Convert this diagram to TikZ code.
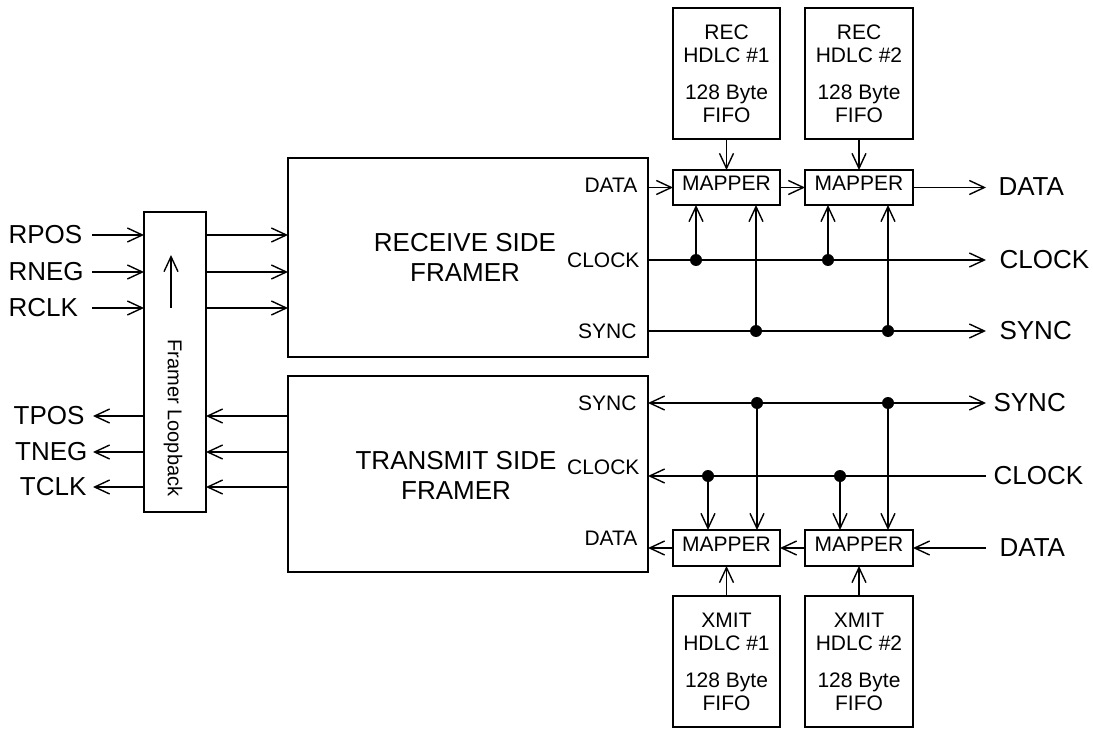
\documentclass[tikz,border=0pt]{standalone}
\usepackage{fontspec}
\setmainfont{Liberation Sans}
\usetikzlibrary{arrows.meta}
\begin{document}
\begin{tikzpicture}[x=1pt,y=-1pt,line width=1.1pt,
  >={Straight Barb[length=15pt,width=14pt,line width=1.4pt]},
  box/.style={draw,line width=1.1pt,anchor=north west,inner sep=0pt,outer sep=0pt},
  dot/.style={circle,fill,draw=none,inner sep=0pt,minimum size=12pt},
  big/.style={font=\fontsize{26}{30}\selectfont,inner sep=0pt},
  mid/.style={font=\fontsize{21}{23}\selectfont,inner sep=0pt},
  mapbox/.style={box,minimum width=107pt,minimum height=35pt,font=\fontsize{21}{23}\selectfont,text depth=8pt},
  fifo/.style={box,minimum width=107pt,minimum height=131pt,align=center,font=\fontsize{21}{23}\selectfont}
]
\useasboundingbox (0,0) rectangle (1093,730);

% main boxes
\node[box,minimum width=62pt,minimum height=300pt] (lb) at (144,212) {};
\node[box,minimum width=360pt,minimum height=199pt] (rf) at (288,158) {};
\node[box,minimum width=360pt,minimum height=196pt] (tf) at (288,376) {};
\node[big,align=center] (rft) at (465,257) {RECEIVE SIDE\\FRAMER};
\node[big,align=center] (tft) at (456,475) {TRANSMIT SIDE\\FRAMER};
\node[rotate=-90,inner sep=0pt,font=\fontsize{20}{24}\selectfont] (lbt) at (173,418) {Framer Loopback};

% mappers and FIFOs
\node[mapbox] (rm1) at (673,170) {MAPPER};
\node[mapbox,minimum width=108pt] (rm2) at (805,170) {MAPPER};
\node[mapbox,minimum height=36pt] (tm1) at (673,530) {MAPPER};
\node[mapbox,minimum width=108pt,minimum height=36pt] (tm2) at (805,530) {MAPPER};
\node[fifo] (rh1) at (673,8) {REC\\HDLC \#1\\[14pt]128 Byte\\FIFO};
\node[fifo,minimum width=108pt] (rh2) at (805,8) {REC\\HDLC \#2\\[14pt]128 Byte\\FIFO};
\node[fifo] (th1) at (673,596) {XMIT\\HDLC \#1\\[14pt]128 Byte\\FIFO};
\node[fifo,minimum width=108pt] (th2) at (805,596) {XMIT\\HDLC \#2\\[14pt]128 Byte\\FIFO};

% inner labels
\node[mid,anchor=east] (rdl) at (638,185) {DATA};
\node[mid,anchor=east] (rcl) at (640,260) {CLOCK};
\node[mid,anchor=east] (rsl) at (637,331) {SYNC};
\node[mid,anchor=east] (tsl) at (637,403) {SYNC};
\node[mid,anchor=east] (tcl) at (640,467) {CLOCK};
\node[mid,anchor=east] (tdl) at (638,538) {DATA};

% outer labels
\node[big,anchor=west] (rpos) at (8,235) {RPOS};
\node[big,anchor=west] (rneg) at (8,272) {RNEG};
\node[big,anchor=west] (rclk) at (8,308) {RCLK};
\node[big,anchor=east] (tpos) at (85,416) {TPOS};
\node[big,anchor=east] (tneg) at (88,452) {TNEG};
\node[big,anchor=east] (tclk) at (87,487) {TCLK};
\node[big,anchor=west] (odata) at (998,187) {DATA};
\node[big,anchor=west] (oclk) at (999,260) {CLOCK};
\node[big,anchor=west] (osync) at (999,331) {SYNC};
\node[big,anchor=west] (isync) at (993,403) {SYNC};
\node[big,anchor=west] (iclk) at (993,476) {CLOCK};
\node[big,anchor=west] (idata) at (999,548) {DATA};

% helper coordinates
\coordinate (inx) at (92,0);
\coordinate (outx) at (93,0);
\coordinate (rend) at (986,0);
\coordinate (tclky) at (0,476);
\coordinate (la1) at (171,308);
\coordinate (la2) at (171,255);

% left side
\foreach \s in {rpos,rneg,rclk}{
  \draw[->] (inx |- \s) -- (lb.west |- \s);
  \draw[->] (lb.east |- \s) -- (rf.west |- \s);
}
\foreach \s in {tpos,tneg,tclk}{
  \draw[->] (tf.west |- \s) -- (lb.east |- \s);
  \draw[->] (lb.west |- \s) -- (outx |- \s);
}
\draw[->] (la1) -- (la2);

% receive side
\draw[->] (rf.east |- rm1) -- (rm1.west);
\draw[->] (rm1.east) -- (rm2.west);
\draw[->] (rm2.east) -- (rend |- rm2);
\draw[->] (rf.east |- rcl) -- (rend |- rcl);
\draw[->] (rf.east |- rsl) -- (rend |- rsl);
\draw[->] (rh1.south) -- (rm1.north);
\draw[->] (rh2.south) -- (rm2.north);
\node[dot] (rc1) at (696,260) {};
\node[dot] (rc2) at (828,260) {};
\node[dot] (rs1) at (756,331) {};
\node[dot] (rs2) at (888,331) {};
\draw[->] (rc1.center) -- (rc1 |- rm1.south);
\draw[->] (rc2.center) -- (rc2 |- rm2.south);
\draw[->] (rs1.center) -- (rs1 |- rm1.south);
\draw[->] (rs2.center) -- (rs2 |- rm2.south);

% transmit side
\draw[<->] (tf.east |- tsl) -- (rend |- tsl);
\draw[->] (rend |- tclky) -- (tf.east |- tclky);
\draw[->] (rend |- tm2) -- (tm2.east);
\draw[->] (tm2.west) -- (tm1.east);
\draw[->] (tm1.west) -- (tf.east |- tm1);
\draw[->] (th1.north) -- (tm1.south);
\draw[->] (th2.north) -- (tm2.south);
\node[dot] (ts1) at (757,403) {};
\node[dot] (ts2) at (888,403) {};
\node[dot] (tc1) at (708,476) {};
\node[dot] (tc2) at (840,476) {};
\draw[->] (ts1.center) -- (ts1 |- tm1.north);
\draw[->] (ts2.center) -- (ts2 |- tm2.north);
\draw[->] (tc1.center) -- (tc1 |- tm1.north);
\draw[->] (tc2.center) -- (tc2 |- tm2.north);
\end{tikzpicture}
\end{document}
